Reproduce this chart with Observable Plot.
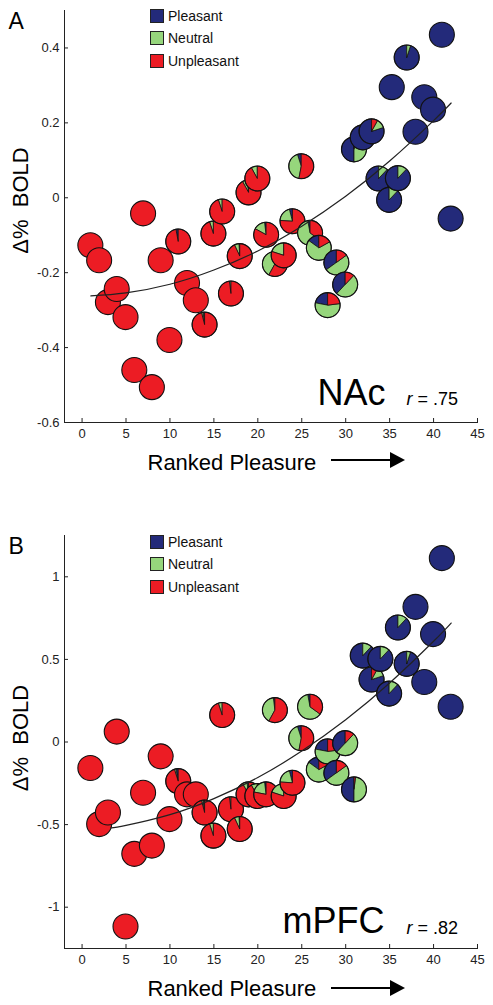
<!DOCTYPE html>
<html><head><meta charset="utf-8">
<script src="https://cdn.jsdelivr.net/npm/d3@7"></script>
<script src="https://cdn.jsdelivr.net/npm/@observablehq/plot@0.6"></script>
<style>
body{margin:0;background:#fff;font-family:"Liberation Sans",Arial,Helvetica,sans-serif;}
#wrap{position:relative;width:493px;height:1005px;overflow:hidden;background:#fff;}
.panel{position:absolute;left:0;width:493px;}
.legend{position:absolute;left:150px;font-size:14px;color:#111;}
.legend .row{position:absolute;left:0;height:14px;white-space:nowrap;}
.legend .sw{position:absolute;left:0;top:0;width:12px;height:12px;border:1px solid #222;}
.legend .lb{position:absolute;left:18px;top:-2px;line-height:18px;}
.shaft{position:absolute;height:2px;background:#000;}
.head{position:absolute;width:0;height:0;border-top:8px solid transparent;border-bottom:8px solid transparent;border-left:15px solid #000;}
</style></head>
<body><div id="wrap"></div>
<script>
// ---- shared ----
const categories = ["Pleasant", "Neutral", "Unpleasant"];
const catColors = ["#232a7a", "#96d67c", "#ec1c24"];
const xTicks = [0, 5, 10, 15, 20, 25, 30, 35, 40, 45];
const xDomain = [-2, 45];

// ---- Panel A: NAc ----
const nacRank = [1,2,3,4,5,6,7,8,9,10,11,12,13,14,15,16,17,18,19,20,21,22,23,24,25,26,27,28,29,30,31,32,33,33.8,35,35.3,36,37,38,39,40,41,42];
const nacBold = [-0.128,-0.168,-0.28,-0.245,-0.32,-0.461,-0.043,-0.507,-0.168,-0.381,-0.118,-0.229,-0.275,-0.34,-0.097,-0.038,-0.257,-0.157,0.013,0.05,-0.1,-0.178,-0.155,-0.064,0.083,-0.095,-0.135,-0.288,-0.174,-0.233,0.128,0.16,0.176,0.05,-0.007,0.294,0.051,0.373,0.175,0.267,0.234,0.434,-0.057];
const nacPleasant = [0,0,0,0,0,0,0,0,0,0, .03,0,0,.02,0,0,0,.01,.02,0, .02,.02,0,.04,.05,.03,.15,.22,.35,.38, .5,.88,.8,.88,.88,1,.88,.95,1,1,1,1,1];
const nacNeutral = [0,0,0,0,0,0,0,0,0,0, 0,0,0,.02,.05,.05,.02,.06,.06,.08, .15,.4,.2,.2,.42,.62,.68,.55,.5,.5, .48,.12,.12,.12,.12,0,.12,.05,0,0,0,0,0];
const nacUnpleasant = [1,1,1,1,1,1,1,1,1,1, .97,1,1,.96,.95,.95,.98,.93,.92,.92, .83,.58,.8,.76,.53,.35,.17,.23,.15,.12, .02,0,.08,0,0,0,0,0,0,0,0,0,0];
const nacFitX = [1, 5, 10, 15, 20, 25, 30, 35, 40, 42];
const nacFitY = [-0.262, -0.254, -0.231, -0.193, -0.142, -0.076, 0.004, 0.098, 0.206, 0.253];
const nacYTicks = [-0.6, -0.4, -0.2, 0, 0.2, 0.4];
const nacYDomain = [-0.6, 0.5];

// ---- Panel B: mPFC ----
const mpfcRank = [1,2,3,4,5,6,7,8,9,10,11,12,13,14,15,16,17,18,19,20,21,22,23,24,25,26,27,28,29,30,31,32,33,34,35,36,37,38,39,40,41,42];
const mpfcBold = [-0.16,-0.50,-0.43,0.06,-1.12,-0.68,-0.31,-0.63,-0.09,-0.47,-0.24,-0.32,-0.32,-0.43,-0.57,0.16,-0.41,-0.53,-0.32,-0.33,-0.32,0.19,-0.33,-0.25,0.02,0.21,-0.17,-0.06,-0.19,-0.01,-0.29,0.52,0.375,0.50,0.29,0.69,0.47,0.815,0.36,0.65,1.11,0.21];
const mpfcPleasant = [0,0,0,0,0,0,0,0,0,0, .03,0,0,.02,0,0,0,.01,.02,0, .02,.02,0,.04,.05,.03,.15,.22,.35,.38, .5,.88,.8,.88,.88,.88,.95,1,1,1,1,1];
const mpfcNeutral = [0,0,0,0,0,0,0,0,0,0, .02,0,0,.02,.05,.05,.02,.06,.06,.08, .2,.4,.2,.2,.42,.62,.68,.55,.5,.5, .48,.12,.12,.12,.12,.12,.05,0,0,0,0,0];
const mpfcUnpleasant = [1,1,1,1,1,1,1,1,1,1, .95,1,1,.96,.95,.95,.98,.93,.92,.92, .78,.58,.8,.76,.53,.35,.17,.23,.15,.12, .02,0,.08,0,0,0,0,0,0,0,0,0];
const mpfcFitX = [3.3, 5, 10, 15, 20, 25, 30, 35, 40, 42];
const mpfcFitY = [-0.52, -0.505, -0.44, -0.343, -0.215, -0.055, 0.135, 0.357, 0.61, 0.72];
const mpfcYTicks = [-1, -0.5, 0, 0.5, 1];
const mpfcYDomain = [-1.25, 1.25];

const FONT = "'Liberation Sans', Arial, Helvetica, sans-serif";
const R = 12.5;

function pieMark(rows) {
  return (index, scales) => {
    const g = d3.create("svg:g");
    const arc = d3.arc().innerRadius(0).outerRadius(R);
    for (const d of rows) {
      const gg = g.append("g").attr("transform", `translate(${scales.x(d.x)},${scales.y(d.y)})`);
      let cum = 0;
      d.f.forEach((frac, k) => {
        if (frac <= 0) return;
        if (frac >= 0.999) {
          gg.append("circle").attr("r", R).attr("fill", catColors[k]);
        } else {
          gg.append("path")
            .attr("d", arc({startAngle: -(cum + frac) * 2 * Math.PI, endAngle: -cum * 2 * Math.PI}))
            .attr("fill", catColors[k]).attr("stroke", "#111").attr("stroke-width", 0.8);
        }
        cum += frac;
      });
      gg.append("circle").attr("r", R).attr("fill", "none").attr("stroke", "#111").attr("stroke-width", 1.1);
    }
    return g.node();
  };
}

function panel(o) {
  const rows = o.rank.map((x, i) => ({x, y: o.bold[i], f: [o.P[i], o.N[i], o.U[i]]}));
  const fit = o.fitX.map((x, i) => ({x, y: o.fitY[i]}));
  const t = (txt, opts) => Plot.text([txt], {text: d => d, lineAnchor: "bottom", textAnchor: "start", fill: "#000", ...opts});
  return Plot.plot({
    width: 493, height: o.height,
    marginLeft: 64, marginRight: 16, marginTop: o.mTop, marginBottom: o.mBottom,
    style: {fontFamily: FONT, fontSize: "13px", color: "#222", background: "transparent", overflow: "visible"},
    x: {domain: xDomain, ticks: xTicks, tickSize: -4, tickPadding: 10, line: true, label: null, tickFormat: d => String(d)},
    y: {domain: o.yDomain, ticks: o.yTicks, tickSize: -4, tickPadding: 9, line: true, label: null, tickFormat: d => String(d)},
    marks: [
      pieMark(rows),
      Plot.line(fit, {x: "x", y: "y", curve: "natural", stroke: "#222", strokeWidth: 1.2}),
      t(o.letter, {frameAnchor: "top-left", dx: -56, dy: 18, fontSize: 23}),
      t(o.region, {frameAnchor: "bottom-left", dx: o.regionDx, dy: o.regionDy, fontSize: 36}),
      t("r", {frameAnchor: "bottom-left", dx: 342, dy: o.rDy, fontSize: 18, fontStyle: "italic"}),
      t(o.rText, {frameAnchor: "bottom-left", dx: 353, dy: o.rDy, fontSize: 18}),
      t("Ranked Pleasure", {frameAnchor: "bottom-left", dx: 83, dy: 47, fontSize: 22}),
      t("Δ%\u00a0\u00a0BOLD", {frameAnchor: "left", dx: -37, dy: o.ylabelDy, rotate: -90, textAnchor: "middle", fontSize: 22})
    ]
  });
}

function legend(top) {
  const L = document.createElement("div");
  L.className = "legend";
  L.style.top = top + "px";
  categories.forEach((c, i) => {
    const row = document.createElement("div");
    row.className = "row";
    row.style.top = (i * 22.4) + "px";
    row.innerHTML = `<div class="sw" style="background:${catColors[i]}"></div><div class="lb">${c}</div>`;
    L.appendChild(row);
  });
  return L;
}

function arrow(wrap, y) {
  const s = document.createElement("div");
  s.className = "shaft"; s.style.left = "331px"; s.style.width = "62px"; s.style.top = (y - 1) + "px";
  const h = document.createElement("div");
  h.className = "head"; h.style.left = "390px"; h.style.top = (y - 8) + "px";
  wrap.appendChild(s); wrap.appendChild(h);
}

const wrap = document.getElementById("wrap");

const A = panel({rank: nacRank, bold: nacBold, P: nacPleasant, N: nacNeutral, U: nacUnpleasant,
  fitX: nacFitX, fitY: nacFitY, yDomain: nacYDomain, yTicks: nacYTicks,
  height: 500, mTop: 10, mBottom: 78, letter: "A", region: "NAc", regionDx: 253, regionDy: -18,
  rText: "= .75", rDy: -18, ylabelDy: -16});
const dA = document.createElement("div"); dA.className = "panel"; dA.style.top = "0px"; dA.appendChild(A);
wrap.appendChild(dA);

const B = panel({rank: mpfcRank, bold: mpfcBold, P: mpfcPleasant, N: mpfcNeutral, U: mpfcUnpleasant,
  fitX: mpfcFitX, fitY: mpfcFitY, yDomain: mpfcYDomain, yTicks: mpfcYTicks,
  height: 505, mTop: 35, mBottom: 57, letter: "B", region: "mPFC", regionDx: 218, regionDy: -16,
  rText: "= .82", rDy: -15, ylabelDy: -4});
const dB = document.createElement("div"); dB.className = "panel"; dB.style.top = "500px"; dB.appendChild(B);
wrap.appendChild(dB);

wrap.appendChild(legend(9));
wrap.appendChild(legend(535));
arrow(wrap, 460);
arrow(wrap, 988);
</script>
</body></html>
